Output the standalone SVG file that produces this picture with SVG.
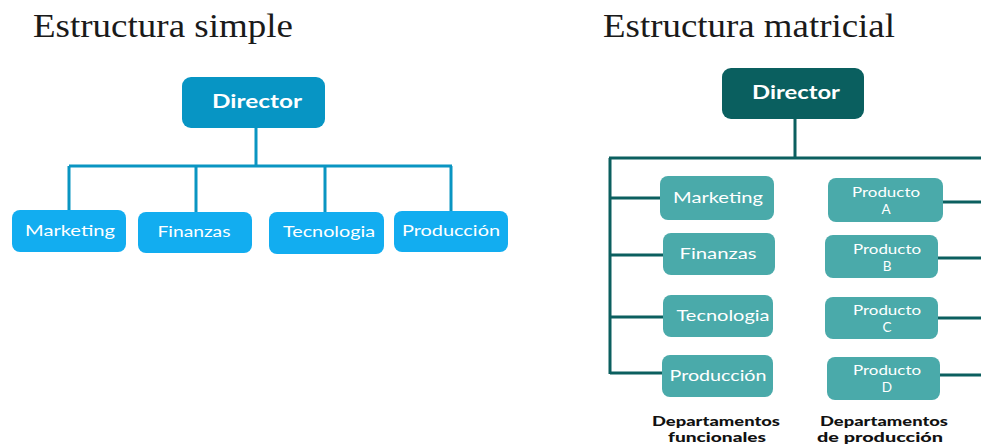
<svg xmlns="http://www.w3.org/2000/svg" width="981" height="445" viewBox="0 0 981 445">
  <style>
    .title { font-family: "Liberation Serif", "Times New Roman", serif; font-size: 34px; fill: #1a1a1a; }
    .boss { font-family: Lato, "Open Sans", sans-serif; font-weight: bold; font-size: 19px; fill: #ffffff; text-anchor: middle; }
    .unit { font-family: Lato, "Open Sans", sans-serif; font-size: 15px; fill: #ffffff; text-anchor: middle; }
    .prod { font-family: Lato, "Open Sans", sans-serif; font-size: 13.5px; fill: #ffffff; text-anchor: middle; }
    .cap { font-family: Lato, "Open Sans", sans-serif; font-weight: 900; font-size: 12.5px; fill: #111111; text-anchor: middle; }
    .blue-line { stroke: #0a95c2; stroke-width: 3; fill: none; }
    .teal-line { stroke: #0b5f5f; stroke-width: 3; fill: none; }
    .blue-top { fill: #0795c4; }
    .blue-unit { fill: #12adf0; }
    .teal-top { fill: #0a5f5f; }
    .teal-unit { fill: #4aaaaa; }
  </style>

  <!-- Simple structure -->
  <text class="title" x="33" y="37" textLength="260" lengthAdjust="spacingAndGlyphs">Estructura simple</text>

  <g id="connectors-simple">
    <path class="blue-line" d="M256 128 V166 M69 166 H452 M69 166 V211 M196 166 V213 M325 166 V213 M451 166 V212"/>
  </g>

  <g id="s-director">
    <rect class="blue-top" x="182" y="77" width="143" height="51" rx="9"/>
    <text class="boss" x="257" y="108" textLength="90" lengthAdjust="spacingAndGlyphs">Director</text>
  </g>
  <g id="s-marketing">
    <rect class="blue-unit" x="12" y="210" width="114" height="42" rx="8"/>
    <text class="unit" x="70" y="236" textLength="90" lengthAdjust="spacingAndGlyphs">Marketing</text>
  </g>
  <g id="s-finanzas">
    <rect class="blue-unit" x="138" y="212" width="114" height="41" rx="8"/>
    <text class="unit" x="194" y="237" textLength="73" lengthAdjust="spacingAndGlyphs">Finanzas</text>
  </g>
  <g id="s-tecnologia">
    <rect class="blue-unit" x="269" y="212" width="115" height="42" rx="8"/>
    <text class="unit" x="329" y="237" textLength="92" lengthAdjust="spacingAndGlyphs">Tecnologia</text>
  </g>
  <g id="s-produccion">
    <rect class="blue-unit" x="394" y="211" width="114" height="41" rx="8"/>
    <text class="unit" x="451" y="236" textLength="98" lengthAdjust="spacingAndGlyphs">Producción</text>
  </g>

  <!-- Matrix structure -->
  <text class="title" x="603" y="37" textLength="292" lengthAdjust="spacingAndGlyphs">Estructura matricial</text>

  <g id="connectors-matrix">
    <path class="teal-line" d="M795 119 V158 M609 158 H981 M610 158 V374 M610 198 H660 M610 255 H663 M610 317 H663 M610 373 H662 M943 202 H981 M938 258 H981 M938 318 H981 M940 375 H981"/>
  </g>

  <g id="m-director">
    <rect class="teal-top" x="722" y="68" width="142" height="51" rx="9"/>
    <text class="boss" x="796" y="99" textLength="88" lengthAdjust="spacingAndGlyphs">Director</text>
  </g>

  <g id="m-marketing">
    <rect class="teal-unit" x="660" y="176" width="114" height="44" rx="8"/>
    <text class="unit" x="718" y="203" textLength="90" lengthAdjust="spacingAndGlyphs">Marketing</text>
  </g>
  <g id="m-finanzas">
    <rect class="teal-unit" x="663" y="233" width="112" height="42" rx="8"/>
    <text class="unit" x="718" y="259" textLength="77" lengthAdjust="spacingAndGlyphs">Finanzas</text>
  </g>
  <g id="m-tecnologia">
    <rect class="teal-unit" x="663" y="295" width="110" height="42" rx="8"/>
    <text class="unit" x="723" y="321" textLength="93" lengthAdjust="spacingAndGlyphs">Tecnologia</text>
  </g>
  <g id="m-produccion">
    <rect class="teal-unit" x="662" y="355" width="111" height="42" rx="8"/>
    <text class="unit" x="718" y="381" textLength="97" lengthAdjust="spacingAndGlyphs">Producción</text>
  </g>

  <g id="m-producto-a">
    <rect class="teal-unit" x="828" y="178" width="115" height="44" rx="8"/>
    <text class="prod" x="886" y="197" textLength="68" lengthAdjust="spacingAndGlyphs">Producto</text>
    <text class="prod" x="886" y="214">A</text>
  </g>
  <g id="m-producto-b">
    <rect class="teal-unit" x="825" y="235" width="113" height="43" rx="8"/>
    <text class="prod" x="887" y="254" textLength="68" lengthAdjust="spacingAndGlyphs">Producto</text>
    <text class="prod" x="887" y="271">B</text>
  </g>
  <g id="m-producto-c">
    <rect class="teal-unit" x="825" y="297" width="113" height="42" rx="8"/>
    <text class="prod" x="887" y="315" textLength="68" lengthAdjust="spacingAndGlyphs">Producto</text>
    <text class="prod" x="887" y="332">C</text>
  </g>
  <g id="m-producto-d">
    <rect class="teal-unit" x="827" y="357" width="113" height="43" rx="8"/>
    <text class="prod" x="887" y="375" textLength="68" lengthAdjust="spacingAndGlyphs">Producto</text>
    <text class="prod" x="887" y="392">D</text>
  </g>

  <g id="captions">
    <text class="cap" x="716" y="426" textLength="128" lengthAdjust="spacingAndGlyphs">Departamentos</text>
    <text class="cap" x="717" y="442" textLength="98" lengthAdjust="spacingAndGlyphs">funcionales</text>
    <text class="cap" x="884" y="426" textLength="128" lengthAdjust="spacingAndGlyphs">Departamentos</text>
    <text class="cap" x="880" y="442" textLength="126" lengthAdjust="spacingAndGlyphs">de producción</text>
  </g>
</svg>
